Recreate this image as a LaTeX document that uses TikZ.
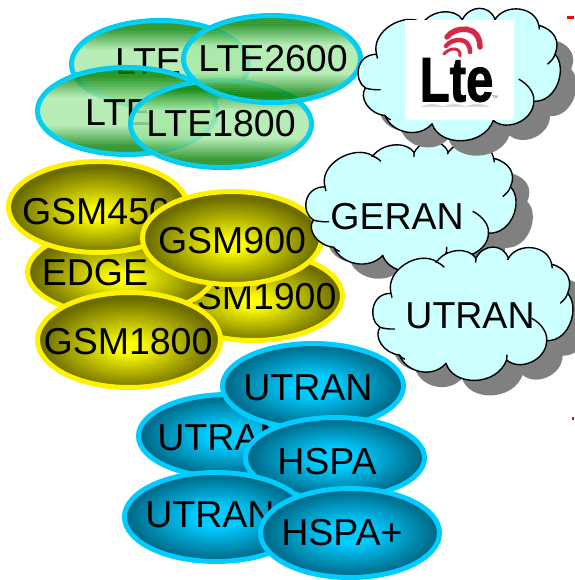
\documentclass[tikz,border=0pt]{standalone}
\usepackage{fontspec}
\setmainfont{Liberation Sans}
\newfontfamily\logofont[FakeBold=1.6]{Liberation Sans Bold}
\usetikzlibrary{shapes.geometric,patterns.meta}
\definecolor{ltecyan}{RGB}{0,204,240}
\definecolor{bluebright}{RGB}{0,204,255}
\definecolor{bluedark}{RGB}{0,100,130}
\definecolor{oliveedge}{RGB}{108,108,0}
\definecolor{cloudfill}{RGB}{204,255,255}
\definecolor{cloudshadow}{RGB}{128,128,128}
\definecolor{ltegreen}{RGB}{0,125,0}
\definecolor{ltelight}{RGB}{165,232,165}
\definecolor{logored}{RGB}{215,40,70}
\pgfdeclareverticalshading{lteband}{100bp}{
  color(0bp)=(ltegreen); color(30bp)=(ltegreen); color(42bp)=(ltelight);
  color(58bp)=(ltelight); color(70bp)=(ltegreen); color(100bp)=(ltegreen)}
\pgfdeclareradialshading{bluerad}{\pgfpoint{0bp}{0bp}}{
  color(0bp)=(bluebright); color(6bp)=(bluebright); color(25bp)=(bluedark); color(50bp)=(bluedark)}
\pgfdeclareradialshading{yellowrad}{\pgfpoint{0bp}{-4bp}}{
  color(0bp)=(yellow); color(3bp)=(yellow); color(24bp)=(oliveedge); color(50bp)=(oliveedge)}
\tikzset{
  oval/.style={shape=ellipse,inner sep=0pt,outer sep=0pt,line width=5pt},
  blueoval/.style={oval,draw=bluebright,shading=bluerad},
  yellowoval/.style={oval,draw=yellow,shading=yellowrad},
  lteoval/.style={oval,draw=ltecyan,shading=lteband,fill opacity=.82,draw opacity=1,
    postaction={pattern={Dots[distance=2pt,radius=.5pt]},pattern color=white!75!ltelight,fill opacity=.4}},
  label text/.style={font=\fontsize{37.5pt}{38pt}\selectfont,inner sep=0pt,text=black},
  cloud line/.style={draw=black,line width=1.4pt,line join=round},
  logoarc/.style={draw=logored,line cap=round}
}
% shape of a cloud, given in one fixed frame
\newcommand\cloudoutline{
  (303,490) .. controls (285,420) and (385,360) .. (440,395)
  .. controls (470,355) and (535,350) .. (558,385)
  .. controls (580,340) and (640,340) .. (655,385)
  .. controls (685,335) and (775,345) .. (785,403)
  .. controls (830,415) and (850,450) .. (833,490)
  .. controls (870,530) and (840,635) .. (770,632)
  .. controls (770,690) and (690,725) .. (650,690)
  .. controls (620,770) and (490,770) .. (468,700)
  .. controls (430,745) and (350,730) .. (328,675)
  .. controls (280,670) and (250,620) .. (270,592)
  .. controls (235,570) and (240,490) .. (303,490) -- cycle}
\newcommand\cloudinner{
  (435,395) .. controls (445,397) and (455,404) .. (463,412)
  (558,385) -- (557,398)
  (655,385) -- (653,390)
  (785,403) -- (787,415)
  (833,490) .. controls (830,502) and (820,512) .. (811,520)
  (770,632) .. controls (773,605) and (750,578) .. (725,565)
  (650,690) -- (651,674)
  (328,675) .. controls (332,680) and (336,685) .. (345,688)
  (270,592) .. controls (282,596) and (300,598) .. (315,597)
  (303,490) -- (306,503)}
\newcommand\onecloud[1]{
  \begin{scope}[#1]
    \fill[cloudshadow,shift={(48,45)}] \cloudoutline;
  \end{scope}
  \begin{scope}[#1]
    \path[cloud line,fill=cloudfill] \cloudoutline;
    \draw[cloud line] \cloudinner;
  \end{scope}}
\newcommand\ovalat[8]{% style, name, cx, cy, rx, ry, text position, text
  \node[#1,minimum width=2*#5*1pt-5pt,minimum height=2*#6*1pt-5pt] (#2) at (#3,#4) {};
  \node[label text,anchor=center] (#2t) at (#7) {#8};}
\begin{document}
\begin{tikzpicture}[x=1pt,y=-1pt]
\useasboundingbox (0,0) rectangle (574,580);
% LTE group
\ovalat{lteoval}{lteA}{160}{64}{91}{46}{148,62}{LTE}
\ovalat{lteoval}{lteB}{127}{111}{92}{46}{118,113}{LTE}
\ovalat{lteoval}{lteC}{221}{124}{93}{46}{221,124}{LTE1800}
\ovalat{lteoval}{lteD}{272}{59}{91}{46}{273,59}{LTE2600}
% GSM group
\ovalat{yellowoval}{gsmE}{253}{296}{92}{47}{252,297}{GSM1900}
\ovalat{yellowoval}{edge}{121}{272}{96}{46}{95,273}{EDGE}
\ovalat{yellowoval}{gsmA}{98}{207}{92}{48}{96,212}{GSM450}
\ovalat{yellowoval}{gsmB}{232}{238}{92}{49}{232,241}{GSM900}
\ovalat{yellowoval}{gsmC}{129}{340}{94}{50}{128,342}{GSM1800}
% clouds
\onecloud{shift={(218.9,26.7)},xscale=.35,yscale=.3267}
\node[label text] (geran) at (397,217) {GERAN};
\onecloud{shift={(274.5,-107.9)},xscale=.3367,yscale=.331}
\onecloud{shift={(290,130)},xscale=.3333,yscale=.3333}
\node[label text] (utranc) at (470,316) {UTRAN};
% logo
\node[fill=white,minimum width=109pt,minimum height=100pt,inner sep=0pt] (logo) at (459.5,70) {};
\node[inner sep=0pt,font=\logofont\fontsize{63pt}{63pt}\selectfont] (logot) at (456.5,80) {\scalebox{.78}[1]{Lte}};
\node[inner sep=0pt,font=\fontsize{4pt}{4pt}\selectfont,text=black!70] (logotm) at (495,97) {TM};
\draw[logoarc,line width=5.5pt] (447,37) .. controls (455,26) and (480,24) .. (480,47);
\draw[logoarc,line width=4.5pt] (446,46) .. controls (452,38) and (470,36) .. (470,52);
\draw[logoarc,line width=3pt] (444,54) .. controls (450,47) and (461,47) .. (460,56);
\fill[black!15] (420,107) .. controls (428,103) and (436,103) .. (444,107) -- cycle
  (442,107) .. controls (450,103) and (458,103) .. (466,107) -- cycle
  (464,107) .. controls (472,103) and (482,103) .. (490,107) -- cycle;
% UMTS group
\ovalat{blueoval}{utB}{228}{436}{92}{44}{222,438}{UTRAN}
\ovalat{blueoval}{utA}{313}{386}{93}{45}{308,388}{UTRAN}
\ovalat{blueoval}{hspa}{335}{458}{92}{43}{327,462}{HSPA}
\ovalat{blueoval}{utC}{216}{517}{94}{47}{210,515}{UTRAN}
\ovalat{blueoval}{hspap}{350}{533}{92}{47}{342,533}{HSPA+}
% red ticks
\fill[red] (567,16) rectangle (574,19);
\fill[red] (572,416.5) rectangle (574,420);
\end{tikzpicture}
\end{document}
